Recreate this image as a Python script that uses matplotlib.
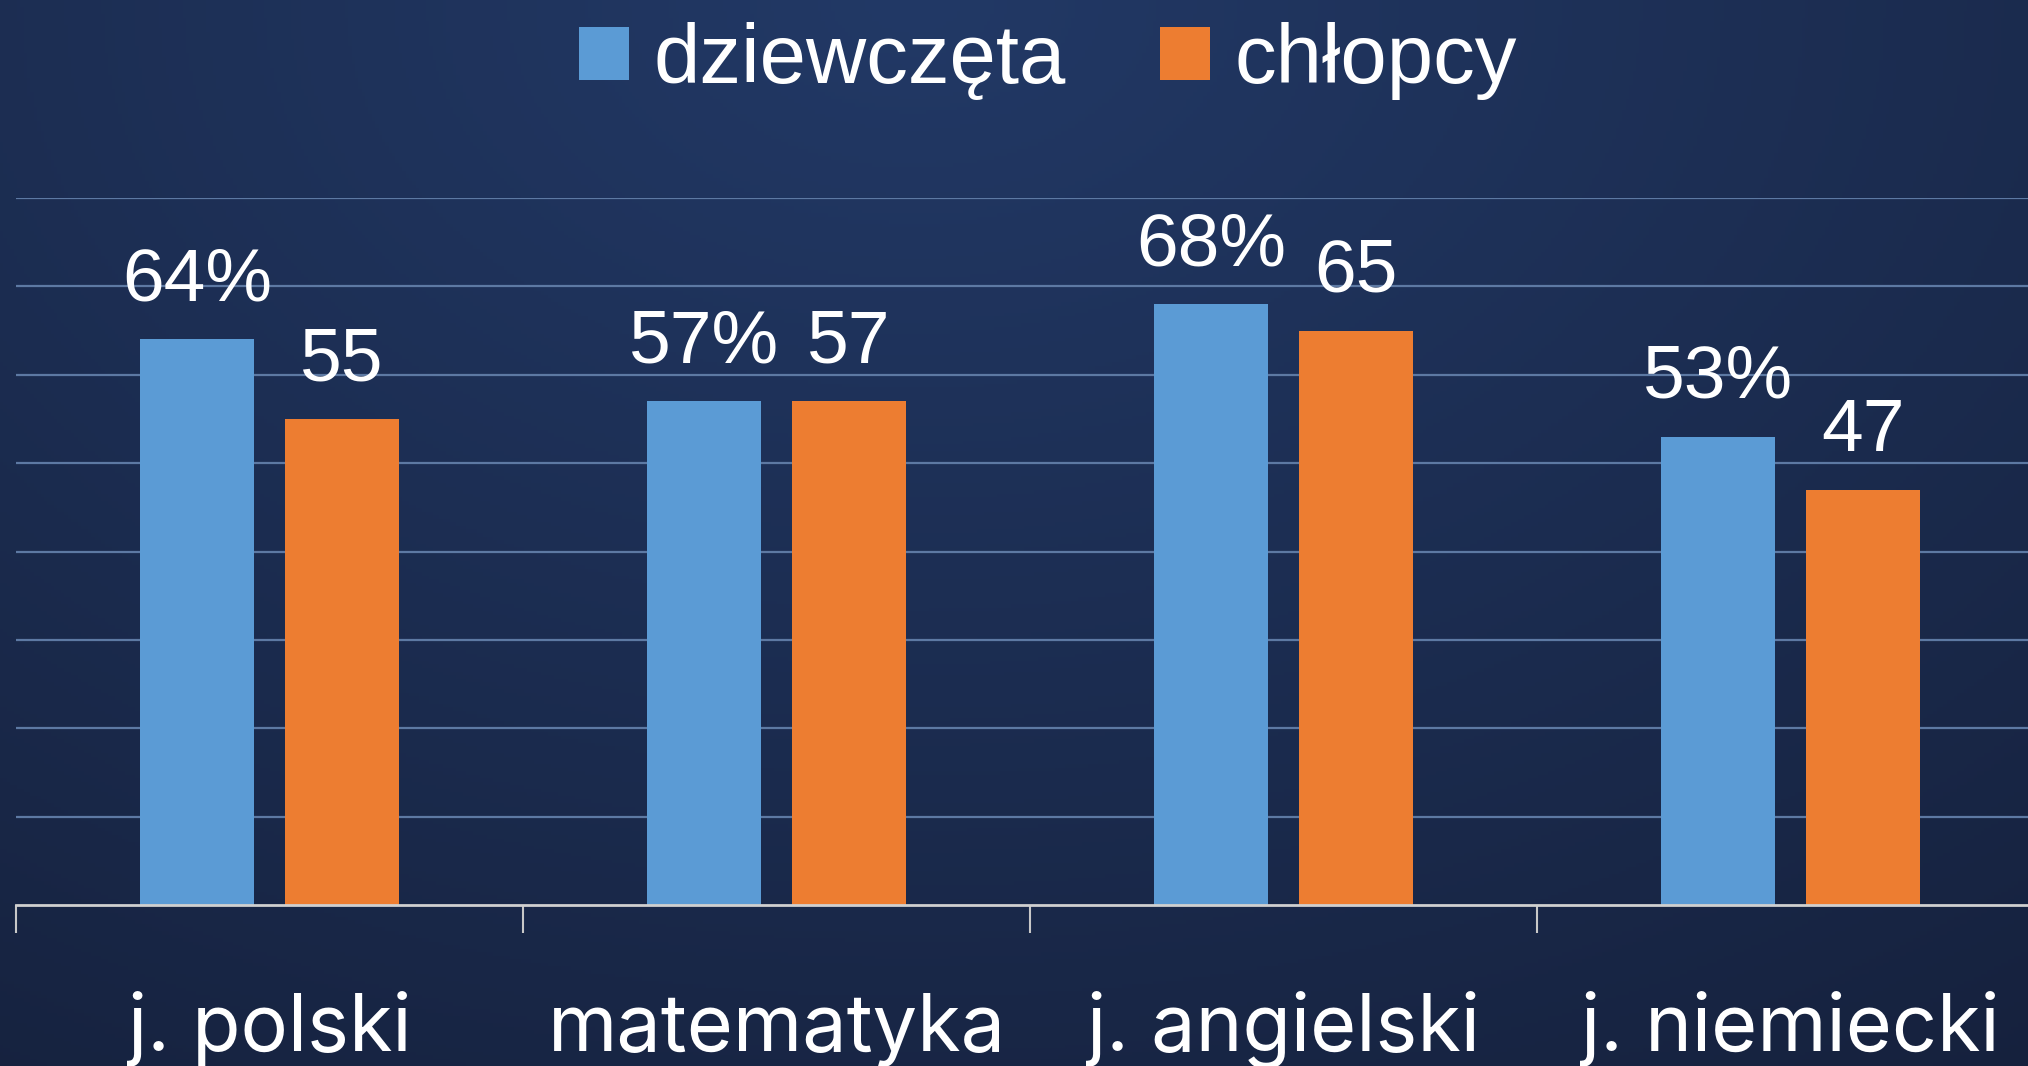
import numpy as np
import matplotlib
matplotlib.use("Agg")
import matplotlib.pyplot as plt
from matplotlib.transforms import blended_transform_factory

# data
categories = ["j. polski", "matematyka", "j. angielski", "j. niemiecki"]
girls = [64, 57, 68, 53]
boys = [55, 57, 65, 47]
series_names = ["dziewczęta", "chłopcy"]
girls_labels = ["64%", "57%", "68%", "53%"]
boys_labels = ["55", "57", "65", "47"]

BLUE = "#5B9BD5"
ORANGE = "#ED7D31"

fig = plt.figure(figsize=(20.28, 10.66), dpi=100)

# background gradient
bg = fig.add_axes([0, 0, 1, 1], zorder=-10)
yy, xx = np.mgrid[0:1:300j, 0:1:600j]
d = np.sqrt(((xx - 0.45) * 1.3) ** 2 + ((yy - 0.0) * 1.0) ** 2)
d = np.clip(d / 1.3, 0, 1)
c0 = np.array([0x22, 0x39, 0x66]) / 255
c1 = np.array([0x15, 0x20, 0x3b]) / 255
img = c0[None, None, :] * (1 - d[..., None]) + c1[None, None, :] * d[..., None]
bg.imshow(img, aspect="auto", extent=[0, 1, 1, 0])
bg.set_axis_off()

ax = fig.add_axes([16 / 2028, 1 - 905 / 1066, 1.0, 707 / 1066])
ax.patch.set_alpha(0)

x = np.arange(len(categories))
w = 0.2245
off = 0.143
ax.bar(x - off, girls, w, color=BLUE, zorder=3, label=series_names[0])
ax.bar(x + off, boys, w, color=ORANGE, zorder=3, label=series_names[1])

ax.set_xlim(-0.5, 3.5)
ax.set_ylim(0, 80)
ax.set_yticks(np.arange(10, 81, 10))
ax.yaxis.grid(True, color="#5d79a3", linewidth=1.6, zorder=1)
ax.tick_params(axis="y", length=0, labelleft=False)
ax.set_xticks(np.arange(-0.5, 3.6, 1))
ax.tick_params(axis="x", direction="out", length=20, width=1.5, color="#c8c8c8", labelbottom=False)
for s in ["top", "right", "left"]:
    ax.spines[s].set_visible(False)
ax.spines["bottom"].set_color("#d0d0d0")
ax.spines["bottom"].set_linewidth(2)
ax.spines["bottom"].set_zorder(4)

for xi, v, t in zip(x - off, girls, girls_labels):
    ax.annotate(t, (xi, v), xytext=(0, 28), textcoords="offset points",
                ha="center", va="baseline", color="white", fontsize=54,
                family="Liberation Sans", annotation_clip=False)
for xi, v, t in zip(x + off, boys, boys_labels):
    ax.annotate(t, (xi, v), xytext=(0, 28), textcoords="offset points",
                ha="center", va="baseline", color="white", fontsize=54,
                family="Liberation Sans", annotation_clip=False)

tr = blended_transform_factory(ax.transData, fig.transFigure)
for xi, c in zip(x, categories):
    ax.text(xi, 1 - 1051 / 1066, c, transform=tr, ha="center", va="baseline",
            color="white", fontsize=57, family="Inter")

leg = fig.legend(loc="center", bbox_to_anchor=(0.5168, 0.943), ncol=2, frameon=False,
                 handlelength=0.6, handleheight=0.6, handletextpad=0.3,
                 columnspacing=1.12, borderpad=0,
                 prop={"family": "Liberation Sans", "size": 60})
for t in leg.get_texts():
    t.set_color("white")

fig.savefig("out.png", dpi=100)
